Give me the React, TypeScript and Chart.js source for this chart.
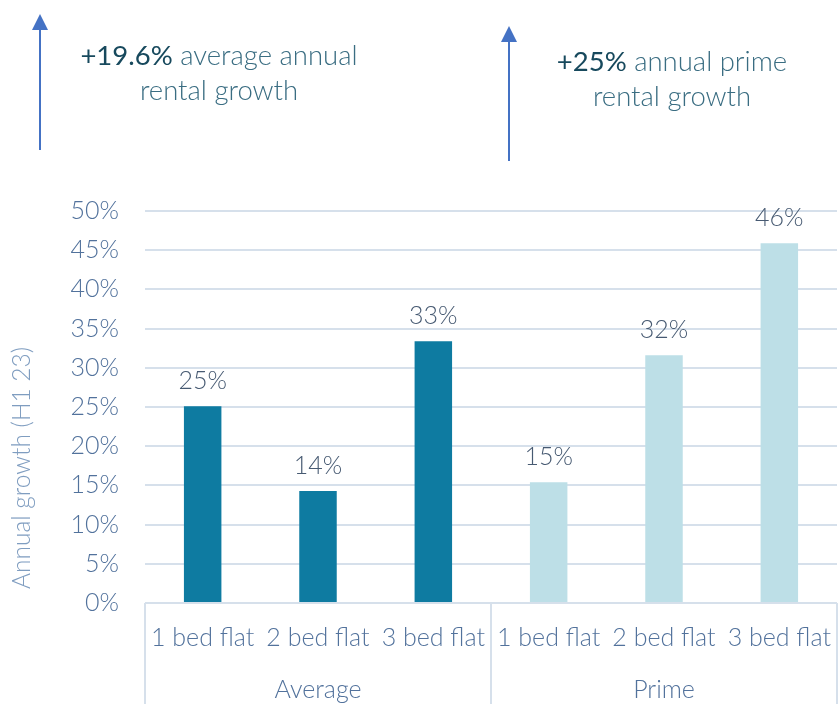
import React, { useEffect, useRef } from "react";
import { Chart, registerables } from "chart.js";

Chart.register(...registerables);

const categories = ["1 bed flat", "2 bed flat", "3 bed flat", "1 bed flat", "2 bed flat", "3 bed flat"];
const groups = ["Average", "Prime"];
const groupSizes = [3, 3];
const values = [25.1, 14.3, 33.4, 15.4, 31.6, 45.9];
const valueLabels = ["25%", "14%", "33%", "15%", "32%", "46%"];
const yTicks = [0, 5, 10, 15, 20, 25, 30, 35, 40, 45, 50];
const yTitle = "Annual growth (H1 23)";
const annotations = [
  { strong: "+19.6%", rest: " average annual", line2: "rental growth" },
  { strong: "+25%", rest: " annual prime", line2: "rental growth" },
];

const FONT = "'Source Sans Pro', Lato, 'Open Sans', sans-serif";
const DARK = "#0e7ba1";
const LIGHT = "#bddfe7";
const TICK = "#52729c";
const GRID = "#d6e0eb";

const overlay = {
  id: "overlay",
  afterDatasetsDraw(chart: any) {
    const ctx = chart.ctx;
    const meta = chart.getDatasetMeta(0);
    ctx.save();
    ctx.font = `300 25px ${FONT}`;
    ctx.fillStyle = "#475a72";
    ctx.textAlign = "center";
    ctx.textBaseline = "middle";
    meta.data.forEach((bar: any, i: number) => {
      ctx.fillText(valueLabels[i], bar.x, bar.y - 25);
    });
    ctx.restore();
  },
  afterDraw(chart: any) {
    const ctx = chart.ctx;
    const xs = chart.scales.x;
    const area = chart.chartArea;
    const H = chart.height;
    ctx.save();
    const bounds: number[] = [xs.left];
    let idx = 0;
    const centers: number[] = [];
    groupSizes.forEach((n) => {
      const a = xs.getPixelForValue(idx);
      const b = xs.getPixelForValue(idx + n - 1);
      centers.push((a + b) / 2);
      idx += n;
      if (idx < categories.length) {
        bounds.push((xs.getPixelForValue(idx - 1) + xs.getPixelForValue(idx)) / 2);
      }
    });
    bounds.push(xs.right);
    ctx.strokeStyle = GRID;
    ctx.lineWidth = 2;
    bounds.forEach((x) => {
      ctx.beginPath();
      ctx.moveTo(x, area.bottom);
      ctx.lineTo(x, H);
      ctx.stroke();
    });
    ctx.font = `300 25px ${FONT}`;
    ctx.fillStyle = TICK;
    ctx.textAlign = "center";
    ctx.textBaseline = "middle";
    groups.forEach((g, i) => ctx.fillText(g, centers[i], 690));
    ctx.save();
    ctx.translate(22, 468);
    ctx.rotate(-Math.PI / 2);
    ctx.font = `300 24.5px ${FONT}`;
    ctx.fillStyle = "#7f9dc0";
    ctx.fillText(yTitle, 0, 0);
    ctx.restore();
    const arrows = [
      { x: 40, tip: 14, bottom: 150 },
      { x: 509, tip: 26, bottom: 161 },
    ];
    ctx.strokeStyle = "#4472c4";
    ctx.fillStyle = "#4472c4";
    ctx.lineWidth = 2;
    arrows.forEach((a) => {
      ctx.beginPath();
      ctx.moveTo(a.x, a.bottom);
      ctx.lineTo(a.x, a.tip + 14);
      ctx.stroke();
      ctx.beginPath();
      ctx.moveTo(a.x, a.tip);
      ctx.lineTo(a.x - 8, a.tip + 16);
      ctx.lineTo(a.x + 8, a.tip + 16);
      ctx.closePath();
      ctx.fill();
    });
    const pos = [
      { cx: 219, y1: 56, y2: 91 },
      { cx: 672, y1: 62, y2: 97 },
    ];
    annotations.forEach((an, i) => {
      const p = pos[i];
      ctx.textAlign = "left";
      ctx.font = `400 27.5px ${FONT}`;
      const w1 = ctx.measureText(an.strong).width;
      ctx.font = `300 27.5px ${FONT}`;
      const w2 = ctx.measureText(an.rest).width;
      const start = p.cx - (w1 + w2) / 2;
      ctx.font = `400 27.5px ${FONT}`;
      ctx.fillStyle = "#17495d";
      ctx.fillText(an.strong, start, p.y1);
      ctx.font = `300 27.5px ${FONT}`;
      ctx.fillStyle = "#3a6d82";
      ctx.fillText(an.rest, start + w1, p.y1);
      ctx.textAlign = "center";
      ctx.fillText(an.line2, p.cx, p.y2);
    });
    ctx.restore();
  },
};

export default function App() {
  const ref = useRef<HTMLCanvasElement>(null);
  useEffect(() => {
    if (!ref.current) return;
    const chart = new Chart(ref.current, {
      type: "bar",
      data: {
        labels: categories,
        datasets: [
          {
            data: values,
            backgroundColor: values.map((_, i) => (i < groupSizes[0] ? DARK : LIGHT)),
            barPercentage: 0.325,
            categoryPercentage: 1,
          },
        ],
      },
      options: {
        responsive: false,
        animation: false,
        layout: { padding: { top: 211, left: 0, right: 2, bottom: 0 } },
        plugins: { legend: { display: false }, tooltip: { enabled: false } },
        scales: {
          x: {
            grid: {
              display: true,
              drawOnChartArea: false,
              drawTicks: true,
              tickLength: 20,
              color: "rgba(0,0,0,0)",
            },
            border: { display: false },
            ticks: {
              padding: 0,
              color: TICK,
              font: { family: FONT, size: 25, weight: "300" as any },
              maxRotation: 0,
              autoSkip: false,
            },
            afterFit: (s: any) => {
              s.height = 101;
            },
          },
          y: {
            min: 0,
            max: 50,
            afterBuildTicks: (s: any) => {
              s.ticks = yTicks.map((v) => ({ value: v }));
            },
            grid: { color: GRID, lineWidth: 2, drawTicks: false },
            border: { display: false },
            ticks: {
              padding: 26,
              color: TICK,
              font: { family: FONT, size: 25, weight: "300" as any },
              callback: (v: any) => v + "%",
            },
            afterFit: (s: any) => {
              s.width = 145;
            },
          },
        },
      },
      plugins: [overlay],
    });
    return () => chart.destroy();
  }, []);
  return (
    <div style={{ position: "absolute", left: 0, top: 0, width: 839, height: 704, background: "#fff" }}>
      <canvas ref={ref} width={839} height={704} />
    </div>
  );
}
